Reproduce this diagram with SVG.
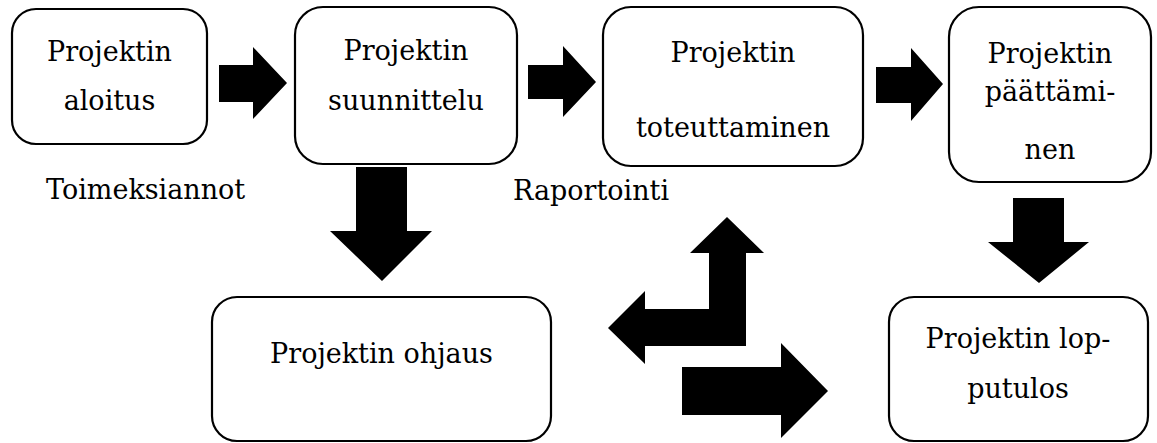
<svg xmlns="http://www.w3.org/2000/svg" width="1157" height="443" viewBox="0 0 1157 443">
<style>
.box{fill:#fff;stroke:#000;stroke-width:2.2}
.t{font-family:"DejaVu Serif","Liberation Serif",serif;font-size:27px;fill:#000;text-anchor:middle}
.lbl{font-family:"DejaVu Serif","Liberation Serif",serif;font-size:27px;fill:#000}
.arr{fill:#000;stroke:none}
</style>
<rect width="1157" height="443" fill="#fff"/>
<g id="connectors">
<polygon class="arr" points="219,65 253,65 253,47 287,83 253,119 253,102 219,102"/>
<polygon class="arr" points="528,65 563,65 563,46 596,82 563,117 563,99 528,99"/>
<polygon class="arr" points="876,67 911,67 911,48 943,84 911,121 911,103 876,103"/>
<polygon class="arr" points="356,167 407,167 407,231 432,231 382,281 330,231 356,231"/>
<polygon class="arr" points="1013,198 1064,198 1064,242 1089,242 1039,283 988,242 1013,242"/>
<polygon class="arr" points="727,217 764,253 746,253 746,346 645,346 645,364 608,328 645,291 645,309 709,309 709,253 690,253"/>
<polygon class="arr" points="682,367 781,367 781,343 828,391 781,438 781,415 682,415"/>
</g>
<g id="n1">
<rect class="box" x="12" y="9" width="195" height="135" rx="24"/>
<text class="t" x="109.5" y="61">Projektin</text>
<text class="t" x="109.5" y="110">aloitus</text>
</g>
<g id="n2">
<rect class="box" x="295" y="7" width="222" height="157" rx="28"/>
<text class="t" x="406" y="60">Projektin</text>
<text class="t" x="406" y="110">suunnittelu</text>
</g>
<g id="n3">
<rect class="box" x="603" y="7" width="260" height="159" rx="28"/>
<text class="t" x="733" y="62">Projektin</text>
<text class="t" x="733" y="137">toteuttaminen</text>
</g>
<g id="n4">
<rect class="box" x="949" y="7" width="202" height="175" rx="30"/>
<text class="t" x="1050" y="63">Projektin</text>
<text class="t" x="1050" y="101">päättämi-</text>
<text class="t" x="1050" y="159">nen</text>
</g>
<g id="n5">
<rect class="box" x="212" y="297" width="339" height="144" rx="25"/>
<text class="t" x="381.5" y="363">Projektin ohjaus</text>
</g>
<g id="n6">
<rect class="box" x="889" y="297" width="259" height="144" rx="25"/>
<text class="t" x="1018" y="348">Projektin lop-</text>
<text class="t" x="1018" y="398">putulos</text>
</g>
<g id="labels">
<text class="lbl" x="46" y="199">Toimeksiannot</text>
<text class="lbl" x="513" y="200">Raportointi</text>
</g>
</svg>
